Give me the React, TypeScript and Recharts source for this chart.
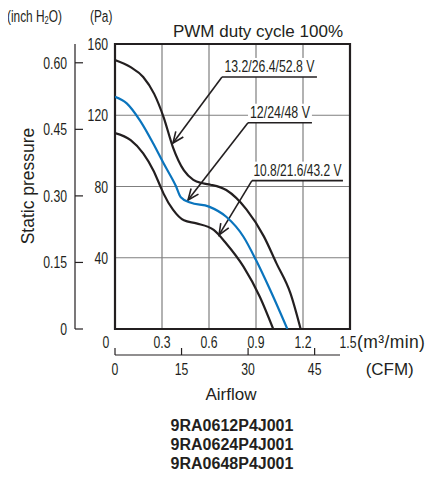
import { LineChart, Line, XAxis, YAxis, CartesianGrid, ReferenceLine, ReferenceArea } from "recharts";

// fan P-Q curves, airflow in m3/min, static pressure in Pa
const flowHigh = [0, 0.1, 0.18, 0.25, 0.31, 0.37, 0.44, 0.5, 0.56, 0.61, 0.71, 0.84, 0.95, 1.03, 1.12, 1.185];
const paHigh = [151, 147, 141.5, 132, 119, 102, 89, 83.7, 81.8, 81, 78, 67, 52, 37, 20, 0];
const flowMid = [0, 0.075, 0.16, 0.245, 0.31, 0.39, 0.42, 0.48, 0.6, 0.71, 0.82, 0.9, 0.99, 1.1];
const paMid = [130.4, 126.7, 117, 104, 93, 80, 74, 71, 68.7, 63, 51.8, 38.7, 22, 0];
const flowLow = [0, 0.1, 0.18, 0.245, 0.29, 0.31, 0.37, 0.44, 0.52, 0.63, 0.71, 0.82, 0.925, 1.01];
const paLow = [110, 106, 98.6, 89, 80, 76, 67, 61, 59.3, 55.6, 48, 35, 18, 0];

const flowTicks = [0, 0.3, 0.6, 0.9, 1.2, 1.5];
const cfmTicks = [0, 15, 30, 45];
const paTicks = [40, 80, 120, 160];
const inchTicks = [0, 0.15, 0.3, 0.45, 0.6];
const inchLabels = ["0", "0.15", "0.30", "0.45", "0.60"];
const models = ["9RA0612P4J001", "9RA0624P4J001", "9RA0648P4J001"];

// voltage callouts: label, underline span and arrow tip in data units
const voltageLabels = ["13.2/26.4/52.8 V", "12/24/48 V", "10.8/21.6/43.2 V"];
const labelFlowStart = [0.683, 0.849, 0.874];
const labelFlowEnd = [1.289, 1.257, 1.455];
const labelPa = [141.5, 115.8, 83.3];
const arrowFlow = [0.37, 0.466, 0.664];
const arrowPa = [104.4, 72.4, 52.8];
const labelWidths = [90, 60, 88];

const PA_PER_INCH = 249.09;
const CFM_PER_M3 = 35.3147;

const toRows = (xs: number[], ys: number[]) => xs.map((f, i) => ({ flow: f, pa: ys[i] }));
const highData = toRows(flowHigh, paHigh);
const midData = toRows(flowMid, paMid);
const lowData = toRows(flowLow, paLow);
// same curve in CFM, only so the CFM axis has something bound to it
const highCfm = highData.map((d) => ({ cfm: d.flow * CFM_PER_M3, pa: d.pa }));

const font = "'Liberation Sans', Arial, sans-serif";
const ink = "#231f20";

// fake a condensed face by squeezing the glyphs horizontally
const CText = ({ x, y, anchor = "start", size = 17, children }: any) => (
  <text
    transform={`translate(${x},${y}) scale(0.72,1)`}
    textAnchor={anchor}
    fontFamily={font}
    fontSize={size}
    fill={ink}
  >
    {children}
  </text>
);

const PaTick = ({ x, y, payload }: any) => (
  <CText x={x - 7} y={y + 6} anchor="end">
    {payload.value}
  </CText>
);

const InchTick = ({ x, y, payload, index }: any) => (
  <g>
    <line x1={x} y1={y} x2={x + 8} y2={y} stroke={ink} strokeWidth={1.2} />
    <CText x={x - 8} y={y + 6} anchor="end">
      {inchLabels[index] ?? payload.value}
    </CText>
  </g>
);

const FlowTick = ({ x, y, payload }: any) => (
  <g>
    <CText x={payload.value === 0 ? x - 9 : payload.value === 1.5 ? x - 2 : x} y={y + 19} anchor="middle">
      {payload.value}
    </CText>
    {payload.value === 1.5 && (
      <text x={x + 7} y={y + 19} fontFamily={font} fontSize={17.5} letterSpacing={0.4} fill={ink}>
        (m³/min)
      </text>
    )}
  </g>
);

const CfmTick = ({ x, y, payload }: any) => (
  <g>
    <line x1={x} y1={y} x2={x} y2={y - 7} stroke={ink} strokeWidth={1.2} />
    {payload.value === 0 && <line x1={x} y1={y} x2={x + 225} y2={y} stroke={ink} strokeWidth={1.2} />}
    <CText x={x} y={y + 20} anchor="middle">
      {payload.value}
    </CText>
    {payload.value === 45 && (
      <text x={x + 51} y={y + 20} fontFamily={font} fontSize={17} fill={ink}>
        (CFM)
      </text>
    )}
  </g>
);

const underlineShape = (text: string, width: number) => (p: any) => {
  const left = Math.min(p.x1, p.x2);
  const w = Math.abs(p.x2 - p.x1);
  return (
    <g>
      <rect x={left} y={p.y1 - 19} width={w} height={19} fill="#fff" />
      <line x1={p.x1} y1={p.y1} x2={p.x2} y2={p.y2} stroke={ink} strokeWidth={1.6} />
      <text
        x={left + w / 2}
        y={p.y1 - 5}
        textAnchor="middle"
        fontFamily={font}
        fontSize={16.5}
        fill={ink}
        textLength={width}
        lengthAdjust="spacingAndGlyphs"
      >
        {text}
      </text>
    </g>
  );
};

const arrowShape = (p: any) => {
  const ang = Math.atan2(p.y2 - p.y1, p.x2 - p.x1);
  const len = 12;
  const spread = 0.4;
  const a1 = ang + Math.PI - spread;
  const a2 = ang + Math.PI + spread;
  const pts = `${p.x2 + len * Math.cos(a1)},${p.y2 + len * Math.sin(a1)} ${p.x2},${p.y2} ${p.x2 + len * Math.cos(a2)},${p.y2 + len * Math.sin(a2)}`;
  return (
    <g>
      <line x1={p.x1} y1={p.y1} x2={p.x2} y2={p.y2} stroke={ink} strokeWidth={1.6} />
      <polyline points={pts} fill="none" stroke={ink} strokeWidth={1.6} />
    </g>
  );
};

export default function App() {
  return (
    <div style={{ position: "relative", width: 425, height: 470 }}>
      <LineChart width={425} height={470} margin={{ top: 36, right: 83, bottom: 83, left: 7 }}>
        <CartesianGrid stroke="#7f7f7f" strokeWidth={1.2} />
        <XAxis
          dataKey="flow"
          type="number"
          domain={[0, 1.5]}
          ticks={flowTicks}
          interval={0}
          height={26}
          axisLine={false}
          tickLine={false}
          tickSize={0}
          tickMargin={0}
          tick={<FlowTick />}
          allowDataOverflow
        />
        <XAxis
          xAxisId="cfm"
          dataKey="cfm"
          type="number"
          domain={[0, 1.5 * CFM_PER_M3]}
          ticks={cfmTicks}
          interval={0}
          height={40}
          axisLine={false}
          tickLine={false}
          tickSize={0}
          tickMargin={0}
          tick={<CfmTick />}
          allowDataOverflow
        />
        <YAxis
          type="number"
          domain={[0, 160]}
          ticks={paTicks}
          interval={0}
          width={40}
          axisLine={false}
          tickLine={false}
          tickSize={0}
          tickMargin={0}
          tick={<PaTick />}
          allowDataOverflow
        />
        <YAxis
          yAxisId="inch"
          type="number"
          domain={[0, 160 / PA_PER_INCH]}
          ticks={inchTicks}
          interval={0}
          width={60}
          axisLine={{ stroke: ink, strokeWidth: 1.2 }}
          tickLine={false}
          tickSize={0}
          tickMargin={0}
          tick={<InchTick />}
          allowDataOverflow
        />
        <ReferenceArea x1={0} x2={1.5} y1={0} y2={160} fill="none" fillOpacity={0} stroke={ink} strokeWidth={2.2} ifOverflow="visible" />
        {voltageLabels.map((t, i) => (
          <ReferenceLine
            key={"u" + i}
            segment={[
              { x: labelFlowStart[i], y: labelPa[i] },
              { x: labelFlowEnd[i], y: labelPa[i] },
            ]}
            shape={underlineShape(t, labelWidths[i])}
            ifOverflow="visible"
          />
        ))}
        {voltageLabels.map((t, i) => (
          <ReferenceLine
            key={"a" + i}
            segment={[
              { x: labelFlowStart[i], y: labelPa[i] },
              { x: arrowFlow[i], y: arrowPa[i] },
            ]}
            shape={arrowShape}
            ifOverflow="visible"
          />
        ))}
        <Line xAxisId="cfm" data={highCfm} dataKey="pa" type="monotone" stroke="none" dot={false} activeDot={false} isAnimationActive={false} />
        <Line data={lowData} dataKey="pa" type="monotone" stroke={ink} strokeWidth={2.2} dot={false} isAnimationActive={false} />
        <Line data={midData} dataKey="pa" type="monotone" stroke="#0a74bd" strokeWidth={2.2} dot={false} isAnimationActive={false} />
        <Line data={highData} dataKey="pa" type="monotone" stroke={ink} strokeWidth={2.2} dot={false} isAnimationActive={false} />
      </LineChart>
      <svg
        width={433}
        height={478}
        style={{ position: "absolute", left: -8, top: -8, pointerEvents: "none", overflow: "visible" }}
      >
        <CText x={7} y={22} size={16.5}>
          (inch H<tspan fontSize={10.5} dy={1.5}>2</tspan>
          <tspan dy={-1.5}>O)</tspan>
        </CText>
        <CText x={90} y={22} size={16.5}>
          (Pa)
        </CText>
        <text x={258} y={37} textAnchor="middle" fontFamily={font} fontSize={17} fill={ink}>
          PWM duty cycle 100%
        </text>
        <text transform="translate(34,186) rotate(-90)" textAnchor="middle" fontFamily={font} fontSize={17.5} fill={ink}>
          Static pressure
        </text>
        <text x={231} y={400} textAnchor="middle" fontFamily={font} fontSize={17} fill={ink}>
          Airflow
        </text>
        {models.map((m, i) => (
          <text key={m} x={232} y={431 + i * 19} textAnchor="middle" fontFamily={font} fontWeight="bold" fontSize={16} fill={ink}>
            {m}
          </text>
        ))}
      </svg>
    </div>
  );
}
